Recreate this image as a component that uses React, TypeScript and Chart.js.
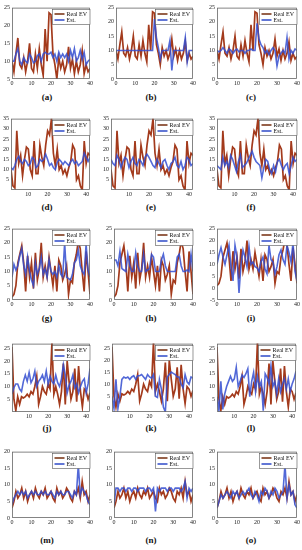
import React, { useEffect, useRef } from 'react';
import { Chart, registerables } from 'chart.js';
Chart.register(...registerables);

// ---------- tick labels ----------
const xTicksFull = [0, 10, 20, 30, 40];
const xTicksShort = [10, 20, 30, 40];
const yTicks5to25 = [5, 10, 15, 20, 25];
const yTicks0to25 = [0, 5, 10, 15, 20, 25];
const yTicks5to35 = [5, 10, 15, 20, 25, 30, 35];
const yTicksM5to25 = [-5, 0, 5, 10, 15, 20, 25];
const yTicks0to20 = [0, 5, 10, 15, 20];

// ---------- series ----------
const realEV1 = [10, 7, 12, 16.5, 9, 8, 11, 7, 10, 15, 8, 7, 12, 8, 13.5, 9, 6, 19, 10, 23.5, 23, 12, 9, 5, 11, 8, 10, 7, 9, 14, 8, 10.5, 6.5, 10, 7, 9, 13, 6.5, 9, 7, 8];
const estA = [10, 10, 12, 13.5, 10, 9, 11, 10, 9.5, 12, 11, 9.5, 10, 11.5, 12, 10, 12, 12.5, 12, 12, 12.5, 11, 12, 10, 12.5, 11, 12, 11, 12, 10, 13, 11, 13.5, 10, 11, 13, 10.5, 12.5, 9, 10, 10.5];
const estB = [10, 10, 10, 10, 10, 10, 10, 10, 10, 10, 10, 10, 10, 10, 10, 10, 10, 10, 10, 10, 21, 14.5, 11, 7, 10, 10, 10, 10, 13.5, 3, 10, 10, 10, 10, 10, 10, 14.5, 6, 10, 10, 10];
const estC = [10, 9.5, 10, 11, 10, 9, 10.5, 10, 9, 10, 10.5, 9.5, 10, 10, 9, 10, 10, 10.5, 10, 10, 19.5, 14, 12, 11, 9, 10, 8.5, 10, 11, 10, 4.5, 8, 9, 10, 9, 14.5, 7, 10, 9, 10.5, 10];

const realEV2 = [10, 2, 1, 29, 13, 17, 7, 15, 21, 20, 10, 7, 24, 8, 8, 22, 16, 12, 22, 29, 27, 35, 18, 12, 20, 10, 12, 8, 10, 7, 11, 14, 22, 20, 5, 7, 2, 0, 24, 13, 18, 17];
const estD = [11, 10, 12, 15, 16.5, 14, 13, 15, 14, 12, 13, 16, 15, 11, 12, 15, 14, 15, 17.5, 15, 12, 13, 11, 10, 13.5, 15, 14, 12.5, 14, 13, 12, 14, 15, 13, 14, 12, 13, 14, 18, 16, 14, 16];
const estE = [15, 13, 12, 17, 15, 11, 14, 16, 15, 11, 14, 16, 13, 12, 15, 14, 12, 16, 17.5, 16, 14, 12, 11, 15, 13, 11, 14, 15, 12, 10, 13, 14, 16, 12, 11, 14, 10, 12, 16, 15, 12, 13];
const estF = [12, 11, 10, 16, 12, 14, 11, 17, 15, 12, 9, 14, 17, 11, 12, 13, 15, 17, 19, 16, 14, 13, 12, 6, 11, 15, 14, 10, 8, 12, 9, 14, 15, 12, 10, 12, 13, 8, 12, 16, 14, 15];

const realEV3 = [1, 2, 5, 13, 16, 19, 13, 3, 15.5, 8, 13, 4, 16.5, 7, 11, 20, 8, 12, 8, 15, 10, 5, 12, 3, 14, 12, 7, 9, 12, 2, 7, 6, 13, 16, 20.5, 18, 10, 3, 17, 10, 2];
const estG = [8, 12.5, 10.5, 12, 15.5, 18, 12, 9, 15, 10, 7, 5, 13, 9, 11, 15, 9, 11, 8, 14, 10, 9, 10, 8, 12, 9, 8, 20, 8, 7.5, 7, 9, 13, 14, 17.5, 12, 10, 9, 19.5, 10.5, 8];
const estH = [14, 14, 12, 17, 11, 10.5, 10, 16, 12, 10, 10, 16.5, 12, 10, 10, 16, 10, 10.5, 11, 16, 15, 10, 10, 10, 14, 16, 12, 10, 10, 10, 10, 10, 15, 16, 12, 10, 10, 10.5, 10, 16, 10];
const estI = [10, 14, 17, 13, 10, 14, 18, 9, 3, 18, 13, -2, 10, 16, 13, 9, 17.5, 10, 11, 9, 8.5, 7, 11, 13, 8, 6, 18, 12, 11, 6, 9, 14, 16, 12, 10, 18, 15, 11, 19, 7, 3];

const realEV4 = [25.5, 5, 0.5, 6, 3, 6, 5.5, 6, 7, 6, 8, 7, 10, 14, 3, 6, 10, 8, 7, 11, 9, 27.5, 7, 10, 7, 3, 8, 19, 3, 20, 12, 5, 8, 17, 4, 18, 8, 2, 9, 8, 5, 7.5];
const estJ = [7, 9.5, 11, 11, 9, 8, 12, 14.5, 12, 15.5, 11.5, 13, 16, 10, 12, 13, 14.5, 12, 16, 11, 14, 12, 11, 14.5, 11.5, 10, 13, 18.5, 14.5, 7.5, 10.5, 12, 14.5, 9.5, 11, 7.5, 10, 12, 13, 7.5, 11, 17];
const estK = [5, 0, 12, 0, 5, 12, 13, 12.5, 13, 12, 13, 13.5, 12, 13.5, 13.5, 14, 13, 12, 14, 13, 12.5, 14, 5, 4.5, 12, 8, 0.5, -1.5, 13, 14, 15, 14.5, 14, 13, 13, 10, 8.5, 14, 11, 10, 13, 12.5];
const estL = [6, 0.5, 12, 1, 7, 10, 12, 14, 12, 13, 17.5, 10, 12, 14.5, 13.5, 15, 17, 6, 12, 15.5, 8, 14, 10, 12, 0.5, 15, 13.5, 11, 18, 10, 12, 7, 13, 8, 11, 13, 9, 13, 8, 11, 13, 16];

const realEV5 = [3, 5, 8, 6, 7, 9, 6, 8, 5, 7, 8, 6, 9, 7, 6, 8, 7, 9, 6, 7, 8, 6, 5, 9, 7, 8, 6, 7, 9, 8, 6, 5, 8, 7, 9, 6, 11, 7, 8, 5, 7];
const estM = [4, 6, 7, 8, 7, 8, 7, 8, 6, 7, 8, 7, 8, 7, 7, 8, 7, 8, 7, 7, 8, 7, 6, 8, 7, 8, 7, 7, 8, 8, 7, 6, 8, 7, 16, 7, 9, 8, 7, 5, 4];
const estN = [4, 9, 9, 8, 9, 9, 8, 9, 9, 8, 9, 9, 8, 9, 9, 9, 8, 9, 9, 8, 9, 2, 9, 8, 9, 9, 9, 8, 9, 9, 8, 9, 9, 9, 8, 9, 11, 6, 9, 8, 9];
const estO = [3, 5, 7, 6, 7, 8, 7, 6, 8, 7, 8, 6, 7, 8, 7, 8, 9, 7, 6, 8, 7, 5, 8, 7, 9, 8, 6, 8, 7, 9, 8, 6, 7, 8, 16, 6, 10, 7, 8, 4, 3];

const seriesNames = ['Real EV', 'Est.'];
const panelLabels = ['(a)', '(b)', '(c)', '(d)', '(e)', '(f)', '(g)', '(h)', '(i)', '(j)', '(k)', '(l)', '(m)', '(n)', '(o)'];

// ---------- style / layout ----------
const REAL_COLOR = '#a33a1c';
const EST_COLOR = 'rgba(52, 78, 208, 0.85)';
const FONT = '"Liberation Serif", "DejaVu Serif", serif';

type PanelDef = {
  real: number[]; est: number[];
  xStart: number; xMin: number; xMax: number; xTicks: number[];
  yMin: number; yMax: number; yTicks: number[];
  left: number; right: number; top: number; bottom: number;
  labelX: number; labelY: number;
};

const rowGeom = [
  { top: 6, bottom: 79, labelY: 97, xStart: 0, xMin: 0, xMax: 40, xTicks: xTicksFull },
  { top: 117, bottom: 190, labelY: 207, xStart: 1, xMin: 1, xMax: 42, xTicks: xTicksShort },
  { top: 227, bottom: 300, labelY: 318, xStart: 0, xMin: 0, xMax: 40, xTicks: xTicksFull },
  { top: 342, bottom: 412, labelY: 428, xStart: 1, xMin: 1, xMax: 42, xTicks: xTicksShort },
  { top: 450, bottom: 518, labelY: 540, xStart: 0, xMin: 0, xMax: 40, xTicks: xTicksFull },
];
const colGeom = [
  [[12, 90], [116, 193], [217, 297]],
  [[11, 90], [111, 193], [217, 297]],
  [[12, 90], [114, 193], [217, 297]],
  [[12, 90], [112, 193], [217, 296]],
  [[12, 90], [114, 193], [217, 297]],
];
const labelXs = [47, 151, 251];

const reals = [realEV1, realEV2, realEV3, realEV4, realEV5];
const ests = [[estA, estB, estC], [estD, estE, estF], [estG, estH, estI], [estJ, estK, estL], [estM, estN, estO]];
const yRanges: [number, number, number[]][][] = [
  [[5, 25, yTicks5to25], [0, 25, yTicks0to25], [0, 25, yTicks0to25]],
  [[0, 35, yTicks5to35], [0, 35, yTicks5to35], [0, 35, yTicks5to35]],
  [[0, 25, yTicks0to25], [0, 25, yTicks0to25], [-5, 25, yTicksM5to25]],
  [[0, 26.8, yTicks5to25], [-1.5, 26.8, yTicks0to25], [0, 26.8, yTicks5to25]],
  [[0, 20, yTicks0to20], [0, 20, yTicks0to20], [0, 20, yTicks0to20]],
];

const panels: PanelDef[] = [];
for (let r = 0; r < 5; r++) {
  for (let c = 0; c < 3; c++) {
    const g = rowGeom[r];
    panels.push({
      real: reals[r], est: ests[r][c],
      xStart: g.xStart, xMin: g.xMin, xMax: g.xMax, xTicks: g.xTicks,
      yMin: yRanges[r][c][0], yMax: yRanges[r][c][1], yTicks: yRanges[r][c][2],
      left: colGeom[r][c][0], right: colGeom[r][c][1], top: g.top, bottom: g.bottom,
      labelX: labelXs[c], labelY: g.labelY,
    });
  }
}

const Y_AXIS_W = 12;
const PAD_TOP = 4;
const PAD_RIGHT = 5;
const X_AXIS_H = 10;

const frameLegend = {
  id: 'frameLegend',
  afterDatasetsDraw(chart: any) {
    const { ctx, chartArea: a } = chart;
    ctx.save();
    ctx.strokeStyle = '#666';
    ctx.lineWidth = 0.8;
    ctx.strokeRect(a.left + 0.5, a.top + 0.5, a.right - a.left - 1, a.bottom - a.top - 1);
    const items = [
      { label: seriesNames[0], color: '#7d3a1c' },
      { label: seriesNames[1], color: '#3a55cc' },
    ];
    ctx.font = `6px ${FONT}`;
    const tw = Math.max(...items.map((d) => ctx.measureText(d.label).width));
    const lineLen = 10, pad = 2, rowH = 6;
    const w = pad + lineLen + 2 + tw + pad + 1;
    const h = rowH * 2 + 3;
    const x0 = Math.round(a.right - w - 1) + 0.5;
    const y0 = Math.round(a.top + 1) + 0.5;
    ctx.fillStyle = '#fff';
    ctx.fillRect(x0, y0, w, h);
    ctx.strokeStyle = '#555';
    ctx.lineWidth = 0.6;
    ctx.strokeRect(x0, y0, w, h);
    items.forEach((d, i) => {
      const cy = y0 + 1.5 + rowH * i + rowH / 2;
      ctx.strokeStyle = d.color;
      ctx.lineWidth = 1.6;
      ctx.beginPath();
      ctx.moveTo(x0 + pad, cy);
      ctx.lineTo(x0 + pad + lineLen, cy);
      ctx.stroke();
      ctx.fillStyle = '#111';
      ctx.textBaseline = 'middle';
      ctx.textAlign = 'left';
      ctx.fillText(d.label, x0 + pad + lineLen + 2, cy + 0.3);
    });
    ctx.restore();
  },
};

function Panel({ p }: { p: PanelDef }) {
  const ref = useRef<HTMLCanvasElement>(null);
  const cw = p.right - p.left + Y_AXIS_W + PAD_RIGHT;
  const ch = p.bottom - p.top + PAD_TOP + X_AXIS_H;
  useEffect(() => {
    if (!ref.current) return;
    const toPts = (arr: number[]) => arr.map((v, i) => ({ x: p.xStart + i, y: v }));
    const chart = new Chart(ref.current, {
      type: 'line',
      data: {
        datasets: [
          { label: seriesNames[0], data: toPts(p.real), borderColor: REAL_COLOR, borderWidth: 1.7, pointRadius: 0, tension: 0, order: 1 },
          { label: seriesNames[1], data: toPts(p.est), borderColor: EST_COLOR, borderWidth: 1.6, pointRadius: 0, tension: 0, order: 0 },
        ],
      },
      options: {
        animation: false,
        responsive: false,
        devicePixelRatio: 1,
        layout: { padding: { top: PAD_TOP, right: PAD_RIGHT, left: 0, bottom: 0 } },
        plugins: { legend: { display: false }, tooltip: { enabled: false } },
        scales: {
          x: {
            type: 'linear', min: p.xMin, max: p.xMax,
            afterBuildTicks: (s: any) => { s.ticks = p.xTicks.map((v) => ({ value: v })); },
            afterFit: (s: any) => { s.height = X_AXIS_H; },
            grid: { display: false, drawTicks: false },
            border: { display: false },
            ticks: { font: { family: FONT, size: 6 }, color: '#222', padding: 1, maxRotation: 0, autoSkip: false },
          },
          y: {
            type: 'linear', min: p.yMin, max: p.yMax,
            afterBuildTicks: (s: any) => { s.ticks = p.yTicks.map((v) => ({ value: v })); },
            afterFit: (s: any) => { s.width = Y_AXIS_W; },
            grid: { display: false, drawTicks: false },
            border: { display: false },
            ticks: { font: { family: FONT, size: 6 }, color: '#222', padding: 2, autoSkip: false },
          },
        },
      },
      plugins: [frameLegend],
    } as any);
    return () => chart.destroy();
  }, []);
  return (
    <canvas
      ref={ref}
      width={cw}
      height={ch}
      style={{ position: 'absolute', left: p.left - Y_AXIS_W, top: p.top - PAD_TOP, width: cw, height: ch }}
    />
  );
}

export default function App() {
  return (
    <div style={{ position: 'absolute', left: 0, top: 0, width: 302, height: 550, background: '#fff', overflow: 'hidden' }}>
      {panels.map((p, i) => (
        <React.Fragment key={i}>
          <Panel p={p} />
          <div
            style={{
              position: 'absolute', left: p.labelX - 20, top: p.labelY - 6, width: 40, height: 12,
              textAlign: 'center', font: `bold 9px ${FONT}`, lineHeight: '12px', color: '#111',
            }}
          >
            {panelLabels[i]}
          </div>
        </React.Fragment>
      ))}
    </div>
  );
}
